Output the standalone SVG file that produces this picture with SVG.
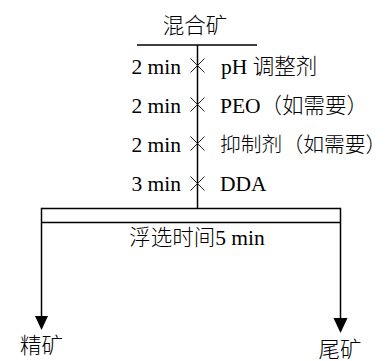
<svg xmlns="http://www.w3.org/2000/svg" width="389" height="361" viewBox="0 0 389 361">
<defs>
<style>
.t{font-family:"Liberation Serif","Noto Sans CJK SC",serif;font-size:21.5px;font-weight:300;fill:#000}
.ln{stroke:#000;stroke-width:1.5;fill:none}
.x{stroke:#222;stroke-width:1;fill:none}
.ah{fill:#000;stroke:none}
</style>
</defs>
<rect width="389" height="361" fill="#fff"/>
<g id="feed">
<text class="t" x="195" y="32.5" text-anchor="middle">混合矿</text>
</g>
<g id="connectors">
<line class="ln" x1="137" y1="45" x2="257" y2="45"/>
<line class="ln" x1="197.5" y1="45" x2="197.5" y2="208.5"/>
<line class="ln" x1="41.5" y1="208.5" x2="340.5" y2="208.5"/>
<line class="ln" x1="41.5" y1="222.5" x2="340.5" y2="222.5"/>
<line class="ln" x1="41.5" y1="207.8" x2="41.5" y2="318"/>
<line class="ln" x1="340.5" y1="207.8" x2="340.5" y2="319"/>
<polygon class="ah" points="35,316 48,316 41.5,330"/>
<polygon class="ah" points="333.5,318 347.5,318 340.5,333"/>
</g>
<g id="step1">
<text class="t" x="181" y="74" text-anchor="end">2 min</text>
<path class="x" d="M190.5 58.5L204.5 72.5M204.5 58.5L190.5 72.5"/>
<text class="t" x="221" y="74">pH 调整剂</text>
</g>
<g id="step2">
<text class="t" x="181" y="113" text-anchor="end">2 min</text>
<path class="x" d="M190.5 97.5L204.5 111.5M204.5 97.5L190.5 111.5"/>
<text class="t" x="220" y="113">PEO（如需要）</text>
</g>
<g id="step3">
<text class="t" x="181" y="152" text-anchor="end">2 min</text>
<path class="x" d="M190.5 136.5L204.5 150.5M204.5 136.5L190.5 150.5"/>
<text class="t" x="220" y="152" style="font-size:20.8px">抑制剂（如需要）</text>
</g>
<g id="step4">
<text class="t" x="181" y="191" text-anchor="end">3 min</text>
<path class="x" d="M190.5 176.5L204.5 190.5M204.5 176.5L190.5 190.5"/>
<text class="t" x="220" y="191">DDA</text>
</g>
<g id="flotation">
<text class="t" x="197" y="245" text-anchor="middle">浮选时间5 min</text>
</g>
<g id="concentrate">
<text class="t" x="41.5" y="353" text-anchor="middle">精矿</text>
</g>
<g id="tailings">
<text class="t" x="340" y="357" text-anchor="middle">尾矿</text>
</g>
</svg>
